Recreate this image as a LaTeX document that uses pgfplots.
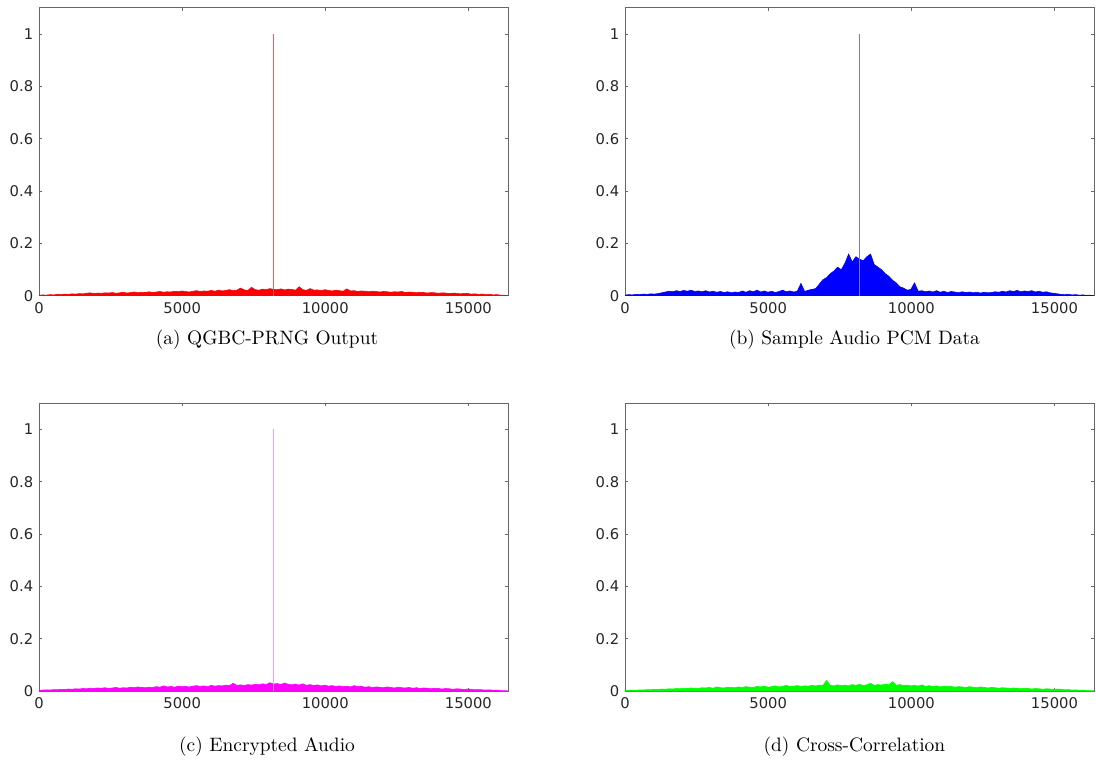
\documentclass[border=0pt]{standalone}
\usepackage{fontspec}
\usepackage{pgfplots}
\usepackage{pgfplotstable}
\pgfplotsset{compat=1.18}
\newfontfamily\dejavu{DejaVu Sans}
\definecolor{cR}{rgb}{1,0,0}
\definecolor{cB}{rgb}{0,0,1}
\definecolor{cM}{rgb}{1,0,1}
\definecolor{cG}{rgb}{0,1,0}
\definecolor{sR}{rgb}{1,0.35,0.35}
\definecolor{sB}{rgb}{0.45,0.45,1}
\definecolor{sM}{rgb}{1,0.6,1}

\pgfplotstableread{
r b m g
0.002 0.003 0.003 0.002
0.004 0.005 0.004 0.003
0.003 0.004 0.005 0.004
0.005 0.006 0.004 0.003
0.004 0.005 0.006 0.005
0.006 0.007 0.005 0.004
0.005 0.006 0.007 0.006
0.007 0.008 0.006 0.005
0.006 0.007 0.008 0.007
0.008 0.009 0.007 0.006
0.007 0.012 0.009 0.008
0.009 0.015 0.008 0.007
0.008 0.018 0.010 0.009
0.010 0.016 0.009 0.008
0.012 0.020 0.011 0.010
0.009 0.017 0.010 0.009
0.011 0.021 0.012 0.011
0.010 0.018 0.011 0.010
0.012 0.022 0.013 0.012
0.011 0.017 0.010 0.011
0.013 0.019 0.012 0.010
0.010 0.016 0.014 0.013
0.012 0.020 0.011 0.012
0.014 0.015 0.013 0.014
0.011 0.018 0.012 0.011
0.013 0.014 0.015 0.016
0.015 0.017 0.013 0.013
0.012 0.013 0.016 0.012
0.014 0.016 0.014 0.015
0.013 0.012 0.013 0.014
0.016 0.015 0.015 0.013
0.013 0.013 0.014 0.016
0.015 0.019 0.017 0.014
0.017 0.014 0.015 0.017
0.014 0.020 0.020 0.015
0.016 0.016 0.016 0.014
0.015 0.022 0.018 0.018
0.018 0.015 0.015 0.016
0.016 0.019 0.019 0.019
0.019 0.014 0.017 0.015
0.017 0.018 0.018 0.017
0.015 0.013 0.016 0.020
0.018 0.017 0.019 0.016
0.020 0.022 0.021 0.018
0.017 0.016 0.018 0.022
0.019 0.019 0.020 0.017
0.018 0.015 0.017 0.019
0.021 0.018 0.022 0.021
0.018 0.048 0.019 0.018
0.022 0.017 0.021 0.020
0.019 0.022 0.020 0.019
0.021 0.025 0.023 0.022
0.024 0.028 0.021 0.020
0.020 0.045 0.030 0.023
0.022 0.062 0.022 0.021
0.030 0.070 0.024 0.041
0.023 0.085 0.021 0.022
0.021 0.095 0.025 0.020
0.033 0.110 0.023 0.024
0.024 0.100 0.026 0.021
0.022 0.125 0.024 0.023
0.026 0.160 0.028 0.020
0.024 0.130 0.025 0.025
0.028 0.150 0.032 0.022
0.025 0.140 0.027 0.026
0.024 0.135 0.029 0.021
0.027 0.150 0.025 0.024
0.023 0.160 0.031 0.030
0.026 0.120 0.026 0.022
0.025 0.110 0.024 0.025
0.022 0.100 0.027 0.023
0.035 0.085 0.023 0.027
0.024 0.075 0.028 0.024
0.021 0.060 0.022 0.036
0.028 0.050 0.025 0.022
0.022 0.035 0.021 0.025
0.023 0.030 0.024 0.021
0.020 0.022 0.020 0.023
0.024 0.025 0.023 0.020
0.021 0.050 0.019 0.022
0.019 0.018 0.021 0.019
0.022 0.020 0.018 0.024
0.020 0.016 0.020 0.018
0.018 0.019 0.017 0.021
0.027 0.015 0.019 0.017
0.019 0.020 0.016 0.020
0.020 0.014 0.021 0.016
0.017 0.018 0.017 0.019
0.019 0.013 0.018 0.017
0.018 0.017 0.015 0.018
0.016 0.015 0.017 0.015
0.018 0.012 0.014 0.017
0.017 0.016 0.016 0.016
0.015 0.013 0.015 0.014
0.017 0.015 0.013 0.017
0.016 0.012 0.016 0.015
0.014 0.014 0.014 0.013
0.016 0.011 0.012 0.016
0.015 0.014 0.015 0.014
0.017 0.012 0.013 0.012
0.013 0.013 0.012 0.014
0.015 0.016 0.014 0.013
0.014 0.014 0.011 0.011
0.012 0.018 0.013 0.013
0.014 0.015 0.010 0.012
0.013 0.020 0.012 0.010
0.011 0.017 0.011 0.012
0.013 0.021 0.009 0.011
0.012 0.016 0.011 0.009
0.010 0.019 0.010 0.011
0.012 0.017 0.008 0.010
0.011 0.020 0.010 0.008
0.009 0.015 0.009 0.010
0.011 0.018 0.007 0.009
0.010 0.014 0.009 0.007
0.008 0.016 0.008 0.009
0.010 0.012 0.006 0.008
0.009 0.010 0.008 0.006
0.007 0.008 0.007 0.008
0.008 0.006 0.005 0.007
0.006 0.005 0.006 0.005
0.007 0.006 0.005 0.006
0.005 0.004 0.004 0.004
0.006 0.005 0.005 0.005
0.004 0.003 0.003 0.003
0.005 0.004 0.004 0.004
0.003 0.002 0.002 0.002
0.002 0.003 0.002 0.002
0.001 0.001 0.001 0.001
}\corrdata

\pgfplotsset{
  panel/.style={
    scale only axis, width=241.5pt, height=148.3pt,
    anchor=south west,
    xmin=0, xmax=16384, ymin=0, ymax=1.1,
    xtick={0,5000,10000,15000},
    ytick={0,0.2,0.4,0.6,0.8,1},
    scaled x ticks=false,
    tick align=inside,
    major tick length=1.6pt,
    axis line style={draw=black!60, line width=0.5pt},
    every tick/.style={draw=black!60, line width=0.5pt},
    tick label style={font=\dejavu\fontsize{7.6}{9}\selectfont, text=black!85},
    /pgf/number format/assume math mode=true,
    /pgf/number format/set thousands separator={},
    yticklabel style={xshift=0.5pt},
  },
}

\begin{document}
\begin{tikzpicture}
\path[use as bounding box] (0,0) rectangle (564.4pt,-393pt);

% (a)
\begin{axis}[panel, at={(20.1pt,-152.4pt)}]
  \addplot[draw=cR, fill=cR, line width=0.3pt] table[x expr=\coordindex*128, y=r]{\corrdata} \closedcycle;
  \addplot[draw=sR, line width=0.6pt] coordinates {(8192,0) (8192,1)};
\end{axis}

% (b)
\begin{axis}[panel, at={(321.9pt,-152.4pt)}]
  \addplot[draw=cB, fill=cB, line width=0.3pt] table[x expr=\coordindex*128, y=b]{\corrdata} \closedcycle;
  \addplot[draw=sB, line width=0.6pt] coordinates {(8192,0) (8192,1)};
\end{axis}

% (c)
\begin{axis}[panel, at={(20.1pt,-355.9pt)}]
  \addplot[draw=cM, fill=cM, line width=0.3pt] table[x expr=\coordindex*128, y=m]{\corrdata} \closedcycle;
  \addplot[draw=sM, line width=0.9pt] coordinates {(8192,0) (8192,1)};
\end{axis}

% (d)
\begin{axis}[panel, at={(321.9pt,-355.9pt)}]
  \addplot[draw=cG, fill=cG, line width=0.3pt] table[x expr=\coordindex*128, y=g]{\corrdata} \closedcycle;
\end{axis}

\node[font=\fontsize{10}{12}\selectfont] at (137.5pt,-175.1pt) {(a) QGBC-PRNG Output};
\node[font=\fontsize{10}{12}\selectfont] at (440pt,-175.1pt) {(b) Sample Audio PCM Data};
\node[font=\fontsize{10}{12}\selectfont] at (137.5pt,-384.7pt) {(c) Encrypted Audio};
\node[font=\fontsize{10}{12}\selectfont] at (440pt,-384.7pt) {(d) Cross-Correlation};
\end{tikzpicture}
\end{document}
